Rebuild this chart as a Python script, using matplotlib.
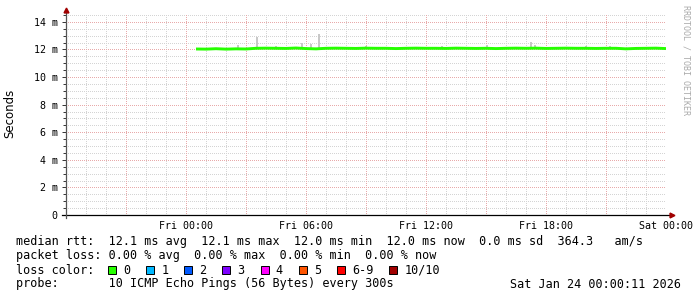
import matplotlib
matplotlib.use("Agg")
import matplotlib.pyplot as plt
import numpy as np
from matplotlib.patches import Rectangle

# hours relative to Fri 00:00, median rtt in ms
hours = np.arange(0.5, 24.01, 0.5)
median_ms = [12.03, 12.02, 12.05, 12.02, 12.04, 12.03,
             12.08, 12.09, 12.08, 12.07, 12.10, 12.06,
             12.04, 12.08, 12.09, 12.08, 12.07, 12.09,
             12.08, 12.08, 12.06, 12.08, 12.09, 12.08,
             12.08, 12.07, 12.09, 12.08, 12.07, 12.08,
             12.06, 12.08, 12.09, 12.08, 12.09, 12.07,
             12.08, 12.09, 12.08, 12.08, 12.07, 12.08,
             12.08, 12.04, 12.07, 12.08, 12.09, 12.06]

# smoke (ping spread) spikes above the median
smoke_hours = [2.6, 3.55, 4.5, 5.8, 6.25, 6.65, 9.0, 12.8, 15.05, 17.25, 17.45, 20.0, 21.2]
smoke_top = [12.33, 12.90, 12.25, 12.47, 12.40, 13.13, 12.22, 12.22, 12.30, 12.50, 12.35, 12.25, 12.22]

xtick_hours = [0, 6, 12, 18, 24]
xtick_labels = ["Fri 00:00", "Fri 06:00", "Fri 12:00", "Fri 18:00", "Sat 00:00"]
ytick_vals = [0, 2, 4, 6, 8, 10, 12, 14]

loss_labels = ["0", "1", "2", "3", "4", "5", "6-9", "10/10"]
loss_colors = ["#26ff00", "#00b8ff", "#0059ff", "#7e00ff", "#ff00ff", "#ff5500", "#ff0000", "#a10000"]

line1 = "median rtt:  12.1 ms avg  12.1 ms max  12.0 ms min  12.0 ms now  0.0 ms sd  364.3   am/s"
line2 = "packet loss: 0.00 % avg  0.00 % max  0.00 % min  0.00 % now"
line4 = "probe:       10 ICMP Echo Pings (56 Bytes) every 300s"
stamp = "Sat Jan 24 00:00:11 2026"

W, H = 697, 297
fig = plt.figure(figsize=(W / 100, H / 100), dpi=100)
fig.patch.set_facecolor("white")

def px(x, y):
    return x / W, 1 - y / H

ax = fig.add_axes([66 / W, (H - 215) / H, 600 / W, 201 / H])
ax.set_xlim(-6, 24)
ax.set_ylim(0, 201 / 13.8)
for s in ax.spines.values():
    s.set_visible(False)

# grid, dotted like rrdtool
dot = (0, (1, 2))
gkw = dict(lw=0.72, ls=dot, zorder=0, antialiased=False)
for h in range(-6, 25):
    if h % 3 == 0:
        continue
    ax.axvline(h, color="#d4d4d4", **gkw)
for v in np.arange(0.5, 14.6, 0.5):
    if v % 2 == 0:
        continue
    ax.axhline(v, color="#d4d4d4", **gkw)
for h in range(-3, 25, 3):
    ax.axvline(h, color="#e8aaaa", **gkw)
for v in ytick_vals[1:]:
    ax.axhline(v, color="#e8aaaa", **gkw)

# smoke
med = np.array(median_ms)
for h, t in zip(smoke_hours, smoke_top):
    base = med[np.argmin(np.abs(hours - h))]
    ax.bar(h, t - base + 0.05, bottom=base - 0.05, width=0.12, color="#c8c8c8", lw=0, zorder=1)

# median line
ax.plot(hours, median_ms, color="#26ff00", lw=2.1, zorder=2, solid_capstyle="butt")

# axes lines with arrows
ax.plot([-6.2, 24.25], [0, 0], color="black", lw=0.9, clip_on=False, zorder=3)
ax.plot([24.3], [0], marker=">", color="#a10000", ms=3.5, clip_on=False, zorder=3)
ax.plot([-6, -6], [-0.25, 14.8], color="#555555", lw=0.9, clip_on=False, zorder=3)
ax.plot([-6], [14.85], marker="^", color="#a10000", ms=3.5, clip_on=False, zorder=3)

mono = "DejaVu Sans Mono"
ax.set_xticks(xtick_hours)
ax.set_xticklabels(xtick_labels, family=mono, fontsize=7.2)
ax.tick_params(axis="x", length=0, pad=4.5)
ax.set_yticks(ytick_vals)
ax.set_yticklabels(["0"] + ["%d m" % v for v in ytick_vals[1:]], family=mono, fontsize=7.2)
ax.set_yticks(np.arange(0.5, 14.6, 0.5), minor=True)
ax.tick_params(axis="y", which="major", length=3, width=0.7, color="#333333", pad=3)
ax.tick_params(axis="y", which="minor", length=2, width=0.7, color="#333333")

fig.text(*px(10, 113), "Seconds", rotation=90, ha="center", va="center", fontsize=8.5, family="DejaVu Sans")
fig.text(*px(686, 5), "RRDTOOL / TOBI OETIKER", rotation=270, ha="center", va="top",
         fontsize=6, family=mono, color="#aaaaaa")

# legend block
fs = 8.5
fig.text(*px(16, 241), line1, family=mono, fontsize=fs, va="center")
fig.text(*px(16, 256), line2, family=mono, fontsize=fs, va="center")
fig.text(*px(16, 270), "loss color:", family=mono, fontsize=fs, va="center")
fig.text(*px(16, 284), line4, family=mono, fontsize=fs, va="center")
fig.text(*px(681, 284), stamp, family=mono, fontsize=fs, va="center", ha="right")

x = 108
for lab, col in zip(loss_labels, loss_colors):
    fig.patches.append(Rectangle(px(x, 274), 8 / W, 8 / H, transform=fig.transFigure,
                                 facecolor=col, edgecolor="black", lw=0.7))
    fig.text(*px(x + 15, 270), lab, family=mono, fontsize=fs, va="center")
    x = x + 15 + len(lab) * 7.15 + 16

fig.savefig("out.png", dpi=100)
